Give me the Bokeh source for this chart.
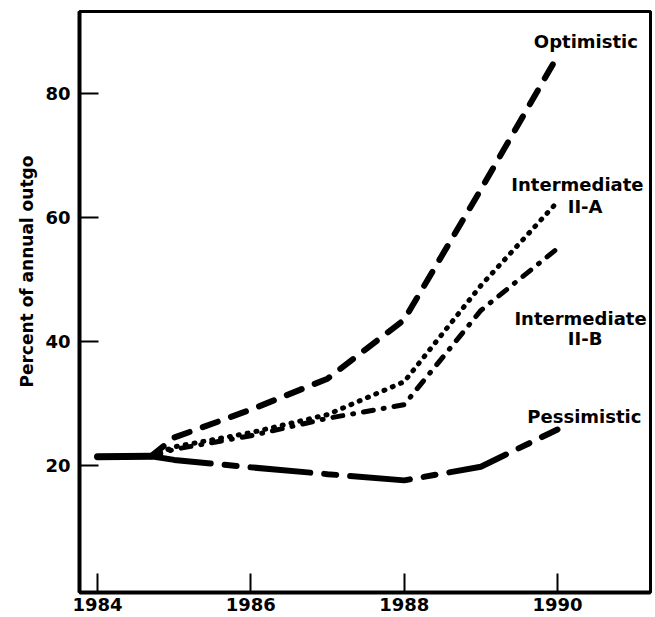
from bokeh.plotting import figure
from bokeh.models import FixedTicker, Label, Range1d, Title
from bokeh.embed import file_html
from bokeh.resources import INLINE

# ---- data ----
history_years = [1984.0, 1984.7]
history_pct = [21.4, 21.5]

proj_years = [1984.7, 1985, 1986, 1987, 1988, 1989, 1990]
optimistic = [21.5, 24.5, 29.0, 34.0, 43.5, 64.5, 86.0]
intermediate_2a = [21.5, 23.0, 25.3, 28.2, 33.5, 49.0, 62.5]
intermediate_2b = [21.5, 22.6, 24.8, 27.6, 29.8, 45.0, 55.0]
pessimistic = [21.5, 20.9, 19.7, 18.6, 17.6, 19.8, 25.8]

x_ticks = [1984, 1986, 1988, 1990]
y_ticks = [20, 40, 60, 80]
y_title = "Percent of annual outgo"

FONT = "DejaVu Sans"

p = figure(width=654, height=617,
           x_range=Range1d(1983.765, 1991.213), y_range=Range1d(-0.48, 93.2),
           output_backend="svg", toolbar_location=None,
           min_border_left=79, min_border_top=11, min_border_right=4, min_border_bottom=25)

p.grid.visible = False
p.background_fill_color = "white"
p.border_fill_color = "white"
p.outline_line_color = "black"
p.outline_line_width = 3

for ax in (p.xaxis[0], p.yaxis[0]):
    ax.axis_line_width = 4
    ax.axis_line_color = "black"
    ax.major_tick_line_width = 2
    ax.major_tick_line_color = "black"
    ax.major_tick_in = 19
    ax.major_tick_out = 0
    ax.minor_tick_line_color = None
    ax.major_label_text_font = FONT
    ax.major_label_text_font_style = "bold"
    ax.major_label_text_font_size = "18px"
    ax.major_label_text_color = "black"

p.xaxis.ticker = FixedTicker(ticks=x_ticks)
p.yaxis.ticker = FixedTicker(ticks=y_ticks)
p.xaxis.major_label_standoff = 5
p.yaxis.major_label_standoff = 9

# history (solid common segment)
p.line(history_years, history_pct, line_color="black", line_width=7, line_cap="round")

# projections
p.line(proj_years, optimistic, line_color="black", line_width=6,
       line_dash="16 14", line_cap="round")
p.line(proj_years, intermediate_2a, line_color="black", line_width=5,
       line_dash="1 8", line_cap="round")
p.line(proj_years, intermediate_2b, line_color="black", line_width=5,
       line_dash="10 10 1 10", line_cap="round")
p.line(proj_years, pessimistic, line_color="black", line_width=6,
       line_dash="60 14 12 14", line_cap="round")

labels = [
    ("Optimistic", 1990.37, 88.4),
    ("Intermediate", 1990.26, 65.3),
    ("II-A", 1990.36, 61.8),
    ("Intermediate", 1990.30, 43.7),
    ("II-B", 1990.36, 40.5),
    ("Pessimistic", 1990.35, 27.9),
]
for txt, x, y in labels:
    p.add_layout(Label(x=x, y=y, text=txt, text_align="center", text_baseline="alphabetic",
                       text_font=FONT, text_font_style="bold", text_font_size="18px",
                       text_color="black"))

t = Title(text=y_title, align="left", offset=205, standoff=12,
          text_font=FONT, text_font_style="bold", text_font_size="17px", text_color="black")
p.add_layout(t, "left")

open("out.html", "w").write(file_html(p, INLINE))
